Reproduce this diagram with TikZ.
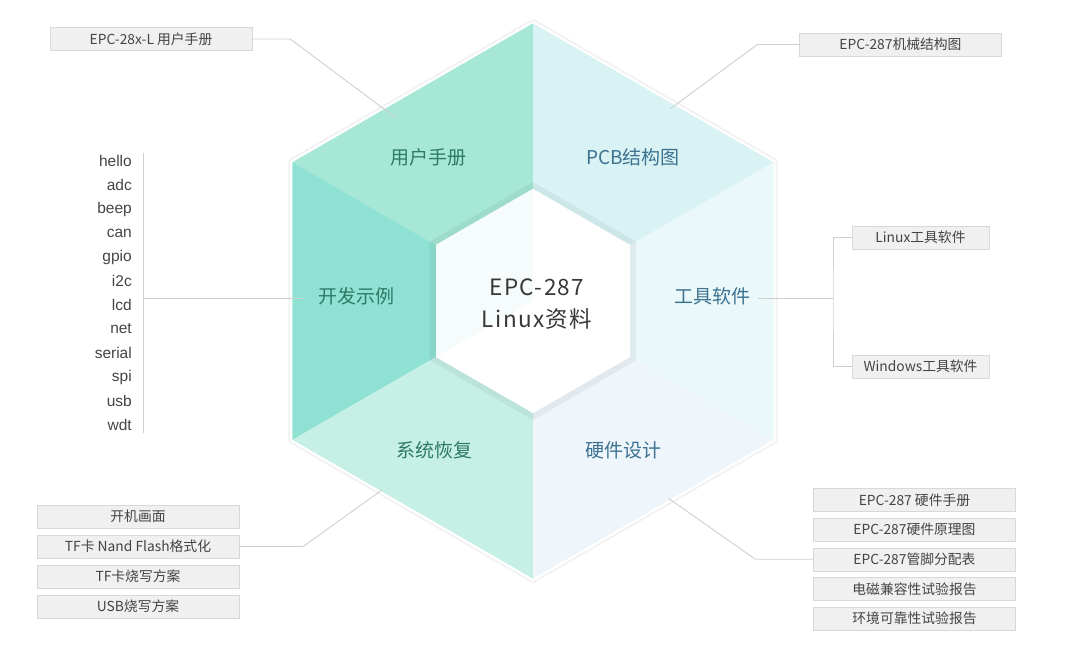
\documentclass[tikz,border=0pt]{standalone}
\usepackage{fontspec}
\setmainfont{Noto Sans CJK SC}
\newfontfamily\listfont{Liberation Sans}
\newfontfamily\hubfont[LetterSpace=6]{Noto Sans CJK SC}
\definecolor{segA}{HTML}{A6E7D6}
\definecolor{segB}{HTML}{8FE2D3}
\definecolor{segC}{HTML}{C6F0E6}
\definecolor{segD}{HTML}{EEF6FC}
\definecolor{segE}{HTML}{EAF8FA}
\definecolor{segF}{HTML}{D9F3F4}
\definecolor{hubtint}{HTML}{F6FBFB}
\definecolor{greentxt}{HTML}{2E7A64}
\definecolor{bluetxt}{HTML}{3C7290}
\definecolor{boxfill}{HTML}{F0F0F0}
\definecolor{boxline}{HTML}{D8D8D8}
\definecolor{boxtext}{HTML}{444444}
\definecolor{linkgray}{HTML}{CFCFCF}
\begin{document}
\begin{tikzpicture}[x=1pt,y=-1pt,
  box/.style={draw=boxline,fill=boxfill,minimum width=202pt,minimum height=23pt,inner sep=0pt,text=boxtext,font=\fontsize{13.8}{15}\selectfont},
  lbl/.style={font=\fontsize{19}{21}\selectfont},
  link/.style={draw=linkgray,line width=0.9pt}]

\useasboundingbox (0,0) rectangle (1080,650);

\foreach \a [count=\i] in {90,150,210,270,330,30} {
  \coordinate (o\i) at ({533+279*cos(\a)},{301-279*sin(\a)});
  \coordinate (m\i) at ({533+119*cos(\a)},{301-119*sin(\a)});
  \coordinate (w\i) at ({533+112*cos(\a)},{301-112*sin(\a)});
}

\draw [black!5, line width=6pt, line join=round] (o1) -- (o2) -- (o3) -- (o4) -- (o5) -- (o6) -- cycle;

\fill [segA] (o1) -- (o2) -- (w2) -- (w1) -- cycle;
\fill [segB] (o2) -- (o3) -- (w3) -- (w2) -- cycle;
\fill [segC] (o3) -- (o4) -- (w4) -- (w3) -- cycle;
\fill [segD] (o4) -- (o5) -- (w5) -- (w4) -- cycle;
\fill [segE] (o5) -- (o6) -- (w6) -- (w5) -- cycle;
\fill [segF] (o6) -- (o1) -- (w1) -- (w6) -- cycle;

\fill [black, opacity=0.05, even odd rule] (m1) -- (m2) -- (m3) -- (m4) -- (m5) -- (m6) -- cycle
                      (w1) -- (w2) -- (w3) -- (w4) -- (w5) -- (w6) -- cycle;
\fill [white] (w1) -- (w2) -- (w3) -- (w4) -- (w5) -- (w6) -- cycle;
\fill [hubtint] (w1) -- (w2) -- (w3) -- (533,301) -- cycle;

\draw [white, line width=2pt, line join=round] (o1) -- (o2) -- (o3) -- (o4) -- (o5) -- (o6) -- cycle;

\node (l1) at (428,157) [lbl, text=greentxt] {用户手册};
\node (l2) at (633,157) [lbl, text=bluetxt] {PCB结构图};
\node (l3) at (356,296) [lbl, text=greentxt] {开发示例};
\node (l4) at (712,296) [lbl, text=bluetxt] {工具软件};
\node (l5) at (434,450) [lbl, text=greentxt] {系统恢复};
\node (l6) at (623,450) [lbl, text=bluetxt] {硬件设计};

\node (hub) at (537,304) [align=center, text=black!78, font=\hubfont\fontsize{22.5}{32}\selectfont] {EPC-287\\Linux资料};

\node (u1) at (151,39) [box] {EPC-28x-L 用户手册};
\node (p1) at (900.5,44.5) [box] {EPC-287机械结构图};
\node (t1) at (920.5,237.5) [box, minimum width=137pt] {Linux工具软件};
\node (t2) at (920.5,366.5) [box, minimum width=137pt] {Windows工具软件};

\foreach \t [count=\i] in {hello,adc,beep,can,gpio,i2c,lcd,net,serial,spi,usb,wdt}
  \node (e\i) at (132,{137+24*\i}) [anchor=east, inner sep=0pt, text=boxtext, font=\listfont\fontsize{15.5}{17}\selectfont] {\t};

\foreach \t [count=\i] in {开机画面,TF卡 Nand Flash格式化,TF卡烧写方案,USB烧写方案}
  \node (s\i) at (138,{486.5+30*\i}) [box] {\t};

\foreach \t [count=\i] in {EPC-287 硬件手册,EPC-287硬件原理图,EPC-287管脚分配表,电磁兼容性试验报告,环境可靠性试验报告}
  \node (h\i) at (914.5,{470.4+29.6*\i}) [box] {\t};

\coordinate (u0) at (396,118);
\coordinate (p0) at (670,109);
\coordinate (ev) at (143,298);
\coordinate (d0) at (305,298);
\coordinate (k0) at (758,298);
\coordinate (kv) at (833,298);
\coordinate (s0) at (382,490);
\coordinate (h0) at (668,498);

\draw [link] (u1.east) -- ++(38,0) -- (u0);
\draw [link] (p1.west) -- ++(-42,0) -- (p0);
\draw [link] (ev) ++(0,-145) -- ++(0,280);
\draw [link] (ev) -- (d0);
\draw [link] (k0) -- (kv);
\draw [link] (t1.west) -| (kv) |- (t2.west);
\draw [link] (s2.east) -- ++(64,0) -- (s0);
\draw [link] (h3.west) -- ++(-58,0) -- (h0);

\end{tikzpicture}
\end{document}
